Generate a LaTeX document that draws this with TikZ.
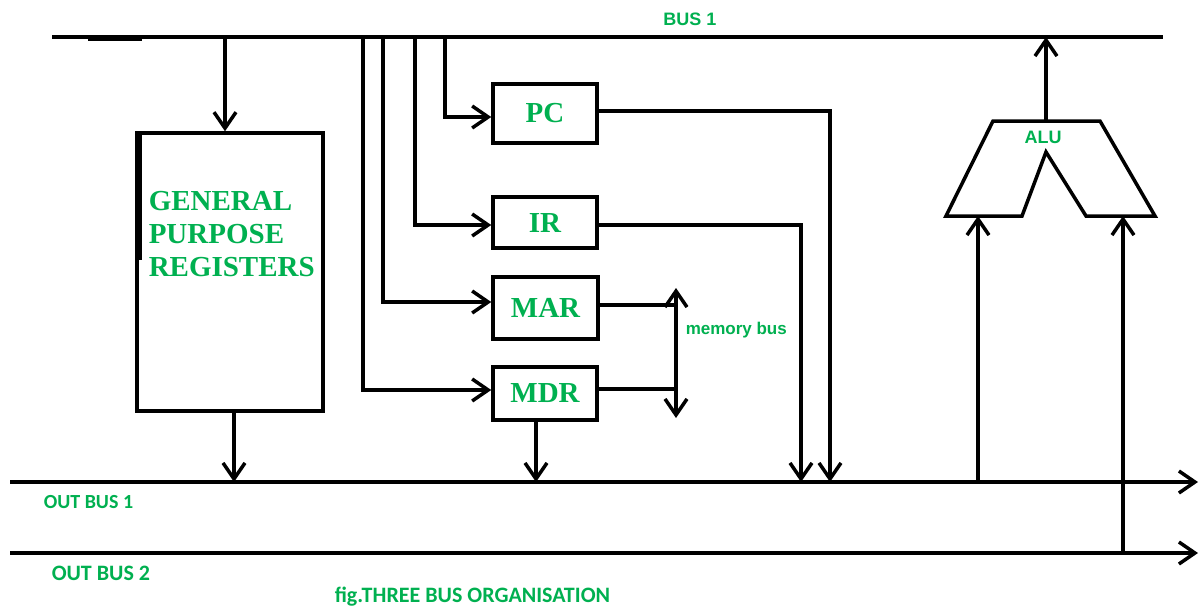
\documentclass[tikz,border=0pt]{standalone}
\usepackage{fontspec}
\setmainfont{Liberation Serif}
\newfontfamily\labelsans{Liberation Sans}
\newfontfamily\busfont{Carlito}
\usetikzlibrary{arrows.meta}
\definecolor{lblgreen}{RGB}{0,176,80}

\begin{document}
\begin{tikzpicture}[x=1pt, y=-1pt, line width=3.5pt,
  tip/.style={-{Straight Barb[length=16pt,width=22pt]}},
  bothtips/.style={{Straight Barb[length=16pt,width=22pt]}-{Straight Barb[length=16pt,width=22pt]}},
  regbox/.style={draw, minimum width=104pt, inner sep=0pt,
    font=\fontsize{29}{31}\selectfont\bfseries, text=lblgreen},
  sanslabel/.style={inner sep=0pt, text=lblgreen,
    font=\labelsans\fontsize{18}{20}\selectfont\bfseries},
  buslabel/.style={inner sep=0pt, text=lblgreen, anchor=west,
    font=\busfont\fontsize{20}{22}\selectfont\bfseries}]

\useasboundingbox (0,0) rectangle (1200,606);
\fill[white] (0,0) rectangle (1200,606);

% bus end points
\coordinate (b1L) at (52,37);
\coordinate (b1R) at (1163,37);
\coordinate (o1L) at (10,482);
\coordinate (o1R) at (1198,482);
\coordinate (o2L) at (10,553);
\coordinate (o2R) at (1198,553);

% the three buses
\draw (b1L) -- (b1R);
\draw (88,39) -- (142,39);
\draw[tip] (o1L) -- (o1R);
\draw[tip] (o2L) -- (o2R);

% register file
\node[draw, minimum width=186pt, minimum height=278pt, inner sep=0pt] (gpr) at (230,272) {};
\draw[line width=5pt] (139,133) -- (139,260);
\node[anchor=north west, inner sep=0pt, align=left, text=lblgreen,
  font=\fontsize{29}{33}\selectfont\bfseries] (gprtext) at (147,190)
  {GENERAL\\PURPOSE\\REGISTERS};

% special registers
\node[regbox, minimum height=59pt] (pc) at (545,113.5) {PC};
\node[regbox, minimum height=51pt] (ir) at (545,222.5) {IR};
\node[regbox, minimum height=62pt, minimum width=105pt] (mar) at (545.5,308) {MAR};
\node[regbox, minimum height=53pt] (mdr) at (545,393.5) {MDR};

% taps on bus 1
\coordinate (tgpr) at (225,37);
\coordinate (tmdr) at (363,37);
\coordinate (tmar) at (383,37);
\coordinate (tir)  at (415,37);
\coordinate (tpc)  at (445,37);

\draw[tip] (tgpr) -- (tgpr |- gpr.north);
\draw[tip] (tmdr) |- ([yshift=3.5pt]mdr.west);
\draw[tip] (tmar) |- ([yshift=6pt]mar.west);
\draw[tip] (tir)  |- ([yshift=-2.5pt]ir.west);
\draw[tip] (tpc)  |- ([yshift=-3.5pt]pc.west);

% drops onto out bus 1
\coordinate (dgpr) at (234,482);
\coordinate (dmdr) at (536,482);
\coordinate (dir)  at (801,482);
\coordinate (dpc)  at (830,482);

\draw[tip] (dgpr |- gpr.south) -- (dgpr);
\draw[tip] (dmdr |- mdr.south) -- (dmdr);
\draw[tip] ([yshift=-2.5pt]ir.east) -| (dir);
\draw[tip] ([yshift=2.5pt]pc.east) -| (dpc);

% memory bus
\coordinate (memT) at (676,288);
\coordinate (memB) at (676,418);
\draw[bothtips] (memT) -- (memB);
\draw ([yshift=3pt]mar.east) -- ([yshift=3pt]mar.east -| memT);
\draw ([yshift=4.5pt]mdr.east) -- ([yshift=4.5pt]mdr.east -| memT);
\node[sanslabel, anchor=west, font=\labelsans\fontsize{17}{19}\selectfont\bfseries] (memlbl) at (684,330) {memory bus};

% ALU
\coordinate (aluTop) at (1046,121);
\coordinate (aluInA) at (978,216);
\coordinate (aluInB) at (1123,216);
\draw[line join=miter] (993,121) -- (1100,121) -- (1155,216) -- (1086,216)
  -- (1046,152) -- (1022,216) -- (946,216) -- cycle;
\node[sanslabel] (alulbl) at (1043,137) {ALU};
\coordinate (aluOut) at (1046,37);
\coordinate (srcA) at (978,482);
\coordinate (srcB) at (1123,553);
\draw[tip] (aluTop) -- (aluOut);
\draw[tip] (srcA) -- (aluInA);
\draw[tip] (srcB) -- (aluInB);

% labels
\node[sanslabel] (bus1lbl) at (690,19) {BUS 1};
\node[buslabel] (out1lbl) at (42,502) {OUT BUS 1};
\node[buslabel, font=\busfont\fontsize{22}{24}\selectfont\bfseries] (out2lbl) at (50,573) {OUT BUS 2};
\node[buslabel, font=\busfont\fontsize{22}{24}\selectfont\bfseries] (caption) at (333,597) {fig.THREE BUS ORGANISATION};

\end{tikzpicture}
\end{document}
